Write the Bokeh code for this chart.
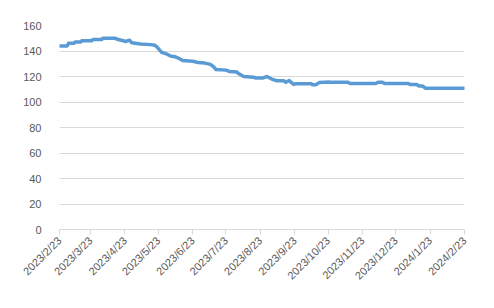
from datetime import datetime
from bokeh.plotting import figure
from bokeh.models import Range1d, FixedTicker, CustomJSTickFormatter, ColumnDataSource
from bokeh.embed import file_html
from bokeh.resources import INLINE
import math

dates = [
    "2023-02-23", "2023-03-02", "2023-03-03", "2023-03-08", "2023-03-09", "2023-03-14", "2023-03-15",
    "2023-03-24", "2023-03-25", "2023-04-02", "2023-04-03", "2023-04-14", "2023-04-17", "2023-04-24",
    "2023-04-27", "2023-04-29", "2023-05-07", "2023-05-16", "2023-05-20", "2023-05-22", "2023-05-26",
    "2023-05-31", "2023-06-03", "2023-06-07", "2023-06-10", "2023-06-14", "2023-06-23", "2023-06-28",
    "2023-07-04", "2023-07-09", "2023-07-12", "2023-07-14", "2023-07-23", "2023-07-26", "2023-08-02",
    "2023-08-03", "2023-08-08", "2023-08-17", "2023-08-19", "2023-08-25", "2023-08-29", "2023-09-03",
    "2023-09-07", "2023-09-13", "2023-09-15", "2023-09-18", "2023-09-22", "2023-09-24", "2023-10-08",
    "2023-10-09", "2023-10-12", "2023-10-15", "2023-10-24", "2023-10-26", "2023-11-10", "2023-11-12",
    "2023-12-05", "2023-12-07", "2023-12-11", "2023-12-13", "2024-01-03", "2024-01-05", "2024-01-11",
    "2024-01-13", "2024-01-16", "2024-01-19", "2024-02-23",
]
values = [
    144.0, 144.0, 146.0, 146.0, 147.0, 147.0, 148.0,
    148.0, 149.0, 149.0, 150.0, 150.0, 149.0, 147.5,
    148.5, 146.5, 145.5, 145.0, 144.5, 143.0, 139.0,
    137.5, 136.0, 135.5, 134.5, 132.5, 132.0, 131.0,
    130.5, 129.5, 127.5, 125.5, 125.0, 124.0, 123.5,
    122.5, 120.0, 119.5, 118.8, 118.8, 120.0, 117.7,
    116.7, 116.7, 115.5, 116.8, 113.8, 114.4, 114.4,
    113.5, 113.5, 115.2, 115.7, 115.4, 115.4, 114.5,
    114.5, 115.4, 115.4, 114.6, 114.6, 113.7, 113.7,
    112.6, 112.6, 110.8, 110.8,
]
tick_dates = [
    "2023-02-23", "2023-03-23", "2023-04-23", "2023-05-23", "2023-06-23", "2023-07-23", "2023-08-23",
    "2023-09-23", "2023-10-23", "2023-11-23", "2023-12-23", "2024-01-23", "2024-02-23",
]
y_ticks = [0, 20, 40, 60, 80, 100, 120, 140, 160]

xs = [datetime.strptime(d, "%Y-%m-%d") for d in dates]
ticks_dt = [datetime.strptime(d, "%Y-%m-%d") for d in tick_dates]
epoch = datetime(1970, 1, 1)
ticks_ms = [(t - epoch).total_seconds() * 1000 for t in ticks_dt]

src = ColumnDataSource(dict(x=xs, y=values))

p = figure(width=494, height=308, x_axis_type="datetime", output_backend="svg",
           toolbar_location=None, min_border_left=59, min_border_right=30,
           min_border_top=25, min_border_bottom=79,
           x_range=Range1d(ticks_dt[0], ticks_dt[-1]), y_range=Range1d(0, 160))
p.outline_line_color = None
p.background_fill_color = "white"
p.border_fill_color = "white"

p.line("x", "y", source=src, line_color="#5B9BD5", line_width=3.5, line_join="round", line_cap="round")

p.xgrid.visible = False
p.ygrid.grid_line_color = "#d9d9d9"
p.ygrid.grid_line_width = 1

yax = p.yaxis[0]
yax.ticker = FixedTicker(ticks=y_ticks)
yax.axis_line_color = None
yax.major_tick_line_color = None
yax.minor_tick_line_color = None
yax.major_label_standoff = 12
yax.major_label_text_font = "Liberation Sans"
yax.major_label_text_font_size = "11px"
yax.major_label_text_color = "#595959"

xax = p.xaxis[0]
xax.ticker = FixedTicker(ticks=ticks_ms)
xax.formatter = CustomJSTickFormatter(code="""
const d = new Date(tick);
return d.getUTCFullYear() + '/' + (d.getUTCMonth() + 1) + '/' + d.getUTCDate();
""")
xax.axis_line_color = "#d9d9d9"
xax.major_tick_line_color = "#d9d9d9"
xax.major_tick_out = 5
xax.major_tick_in = 0
xax.minor_tick_line_color = None
xax.major_label_orientation = math.pi / 4
xax.major_label_standoff = 4
xax.major_label_text_font = "Liberation Sans"
xax.major_label_text_font_size = "11px"
xax.major_label_text_color = "#595959"

open("out.html", "w").write(file_html(p, INLINE))
